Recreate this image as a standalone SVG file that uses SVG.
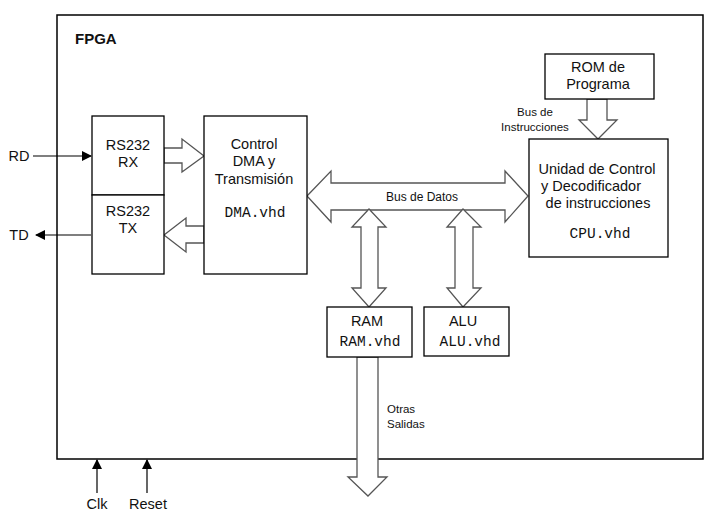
<svg xmlns="http://www.w3.org/2000/svg" width="719" height="515" viewBox="0 0 719 515">
<style>
.box{fill:#fff;stroke:#000;stroke-width:1.3}
.t{font-family:"Liberation Sans",Arial,sans-serif;font-size:14.5px;fill:#111;text-anchor:middle}
.s{font-family:"Liberation Sans",Arial,sans-serif;font-size:11.5px;fill:#111}
.m{font-family:"Liberation Mono","Courier New",monospace;font-size:14.5px;fill:#111;text-anchor:middle}
.blk{fill:#fff;stroke:#555;stroke-width:1.3;stroke-linejoin:miter}
.ln{stroke:#000;stroke-width:1.2;fill:none}
</style>
<defs>
<marker id="ah" markerWidth="10" markerHeight="10" refX="9" refY="5" orient="auto" markerUnits="userSpaceOnUse">
<path d="M0,0 L10,5 L0,10 Z" fill="#000"/>
</marker>
</defs>
<g id="fpga">
<rect x="57" y="15" width="646" height="444" fill="none" stroke="#000" stroke-width="1.5"/>
<text x="75" y="44" font-family="'Liberation Sans',Arial,sans-serif" font-size="15" font-weight="bold" fill="#111">FPGA</text>
</g>
<g id="connectors">
<line class="ln" x1="33" y1="156" x2="91" y2="156" marker-end="url(#ah)"/>
<line class="ln" x1="91" y1="235" x2="36" y2="235" marker-end="url(#ah)"/>
<line class="ln" x1="97" y1="493" x2="97" y2="460" marker-end="url(#ah)"/>
<line class="ln" x1="147" y1="493" x2="147" y2="460" marker-end="url(#ah)"/>
<polygon class="blk" points="164,148 182,148 182,139 204,156 182,172 182,163 164,163"/>
<polygon class="blk" points="204,226 186,226 186,218 164,235 186,252 186,243 204,243"/>
<polygon class="blk" points="307,196 331,171 331,183 505,183 505,171 528,196 505,222 505,210 331,210 331,222"/>
<polygon class="blk" points="369,209 386,227 378,227 378,288 386,288 369,307 352,288 361,288 361,227 352,227"/>
<polygon class="blk" points="463,209 481,227 473,227 473,288 481,288 463,307 447,288 455,288 455,227 447,227"/>
<polygon class="blk" points="587,99 607,99 607,120 617,120 598,139 579,120 587,120"/>
<polygon class="blk" points="357,357 378,357 378,477 387,477 368,496 348,477 357,477"/>
<text class="t" x="422" y="201" style="font-size:12px">Bus de Datos</text>
<text class="s" x="535" y="116" text-anchor="middle">Bus de</text>
<text class="s" x="535" y="131" text-anchor="middle">Instrucciones</text>
<text class="s" x="387" y="413">Otras</text>
<text class="s" x="387" y="428">Salidas</text>
</g>
<g id="rd"><text class="t" x="19" y="161">RD</text></g>
<g id="td"><text class="t" x="19" y="240">TD</text></g>
<g id="clk"><text class="t" x="97" y="509">Clk</text></g>
<g id="reset"><text class="t" x="148" y="509">Reset</text></g>
<g id="rx">
<rect class="box" x="92" y="116" width="72" height="79"/>
<text class="t" x="128" y="150">RS232</text>
<text class="t" x="128" y="167">RX</text>
</g>
<g id="tx">
<rect class="box" x="92" y="195" width="72" height="79"/>
<text class="t" x="128" y="216">RS232</text>
<text class="t" x="128" y="233">TX</text>
</g>
<g id="dma">
<rect class="box" x="204" y="116" width="103" height="158"/>
<text class="t" x="254" y="149">Control</text>
<text class="t" x="254" y="166">DMA y</text>
<text class="t" x="254" y="184">Transmisión</text>
<text class="m" x="255" y="217">DMA.vhd</text>
</g>
<g id="rom">
<rect class="box" x="545" y="54" width="109" height="45"/>
<text class="t" x="598" y="72">ROM de</text>
<text class="t" x="598" y="89">Programa</text>
</g>
<g id="cpu">
<rect class="box" x="529" y="139" width="139" height="118"/>
<text class="t" x="597" y="174">Unidad de Control</text>
<text class="t" x="591" y="191">y Decodificador</text>
<text class="t" x="598" y="208">de instrucciones</text>
<text class="m" x="600" y="238">CPU.vhd</text>
</g>
<g id="ram">
<rect class="box" x="327" y="307" width="85" height="50"/>
<text class="t" x="367" y="326">RAM</text>
<text class="m" x="370" y="346">RAM.vhd</text>
</g>
<g id="alu">
<rect class="box" x="424" y="307" width="85" height="49"/>
<text class="t" x="463" y="326">ALU</text>
<text class="m" x="470" y="346">ALU.vhd</text>
</g>
</svg>
